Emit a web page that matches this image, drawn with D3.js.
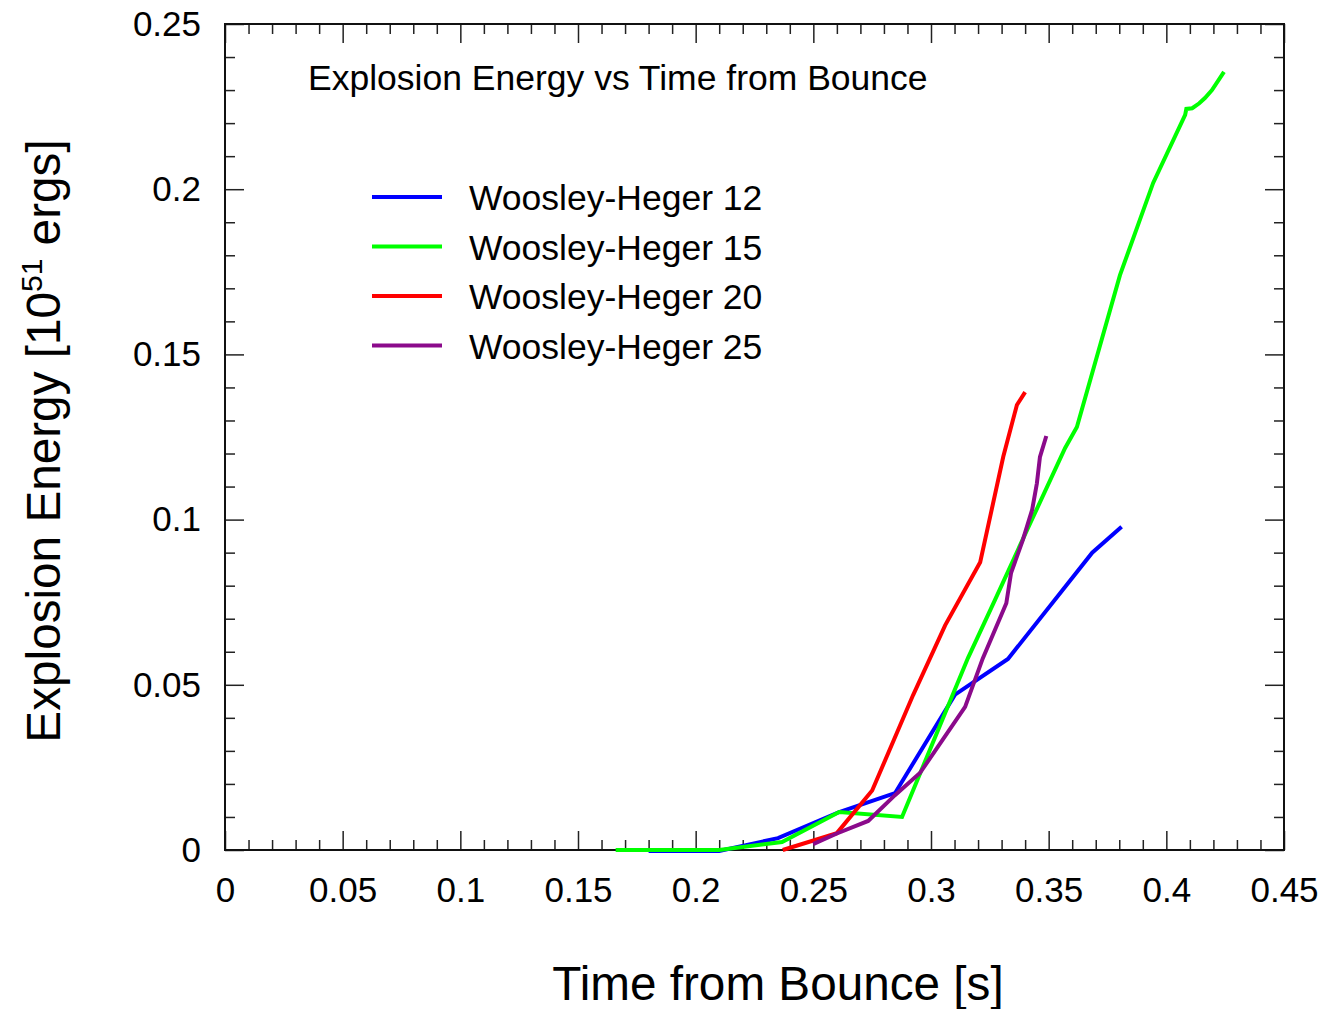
<!DOCTYPE html>
<html>
<head>
<meta charset="utf-8">
<script src="https://cdn.jsdelivr.net/npm/d3@7"></script>
<style>
  html, body { margin: 0; padding: 0; background: #fff; }
  svg { display: block; font-family: "Liberation Sans", Arial, Helvetica, sans-serif; }
</style>
</head>
<body>
<svg id="chart" width="1325" height="1009"></svg>
<script>
// ---- data ----
const seriesNames = ["Woosley-Heger 12", "Woosley-Heger 15", "Woosley-Heger 20", "Woosley-Heger 25"];
const seriesColors = ["#0000ff", "#00ff00", "#ff0000", "#8b0a8b"];

const wh12T = [0.180, 0.210, 0.235, 0.261, 0.2847, 0.3102, 0.3327, 0.3685, 0.381];
const wh12E = [-0.0003, -0.0003, 0.0036, 0.0115, 0.0172, 0.047, 0.0578, 0.090, 0.0978];

const wh15T = [0.166, 0.210, 0.2367, 0.261, 0.2877, 0.3157, 0.3272, 0.3408, 0.357, 0.362, 0.3803, 0.3944, 0.408, 0.4085, 0.411, 0.414, 0.4164, 0.4194, 0.4245];
const wh15E = [0, 0, 0.0024, 0.0115, 0.010, 0.0581, 0.0757, 0.0968, 0.1217, 0.128, 0.174, 0.2019, 0.2225, 0.2243, 0.2245, 0.226, 0.2276, 0.230, 0.2355];

const wh20T = [0.237, 0.260, 0.275, 0.2924, 0.306, 0.3209, 0.3307, 0.3365, 0.340];
const wh20E = [0, 0.0051, 0.018, 0.0469, 0.068, 0.0871, 0.119, 0.1347, 0.1386];

const wh25T = [0.2499, 0.260, 0.2733, 0.2847, 0.2953, 0.3145, 0.322, 0.332, 0.334, 0.339, 0.343, 0.345, 0.3463, 0.349];
const wh25E = [0.0018, 0.005, 0.0088, 0.0166, 0.0233, 0.0433, 0.058, 0.0747, 0.0838, 0.0938, 0.103, 0.111, 0.119, 0.1253];

const xTicks = [0, 0.05, 0.1, 0.15, 0.2, 0.25, 0.3, 0.35, 0.4, 0.45];
const xTickLabels = ["0", "0.05", "0.1", "0.15", "0.2", "0.25", "0.3", "0.35", "0.4", "0.45"];
const yTicks = [0, 0.05, 0.1, 0.15, 0.2, 0.25];
const yTickLabels = ["0", "0.05", "0.1", "0.15", "0.2", "0.25"];

const chartTitle = "Explosion Energy vs Time from Bounce";
const xTitle = "Time from Bounce [s]";

// ---- layout ----
const L = 225, R = 1284, T = 24, B = 850;
const x = d3.scaleLinear().domain([0, 0.45]).range([L, R]);
const y = d3.scaleLinear().domain([0, 0.25]).range([B, T]);

const svg = d3.select("#chart");

const xMinor = d3.range(0, 46).map(i => i * 0.01).filter(v => Math.abs(v * 20 - Math.round(v * 20)) > 1e-6);
const yMinor = d3.range(0, 26).map(i => i * 0.01).filter(v => Math.abs(v * 20 - Math.round(v * 20)) > 1e-6);

function styleAxis(g) {
  g.select(".domain").remove();
  g.selectAll("line").attr("stroke", "#222").attr("stroke-width", 1.5);
}

// minor ticks
svg.append("g").attr("transform", `translate(0,${B})`)
  .call(d3.axisBottom(x).tickValues(xMinor).tickSize(-10).tickFormat(""))
  .call(styleAxis);
svg.append("g").attr("transform", `translate(0,${T})`)
  .call(d3.axisTop(x).tickValues(xMinor).tickSize(-10).tickFormat(""))
  .call(styleAxis);
svg.append("g").attr("transform", `translate(${L},0)`)
  .call(d3.axisLeft(y).tickValues(yMinor).tickSize(-10).tickFormat(""))
  .call(styleAxis);
svg.append("g").attr("transform", `translate(${R},0)`)
  .call(d3.axisRight(y).tickValues(yMinor).tickSize(-10).tickFormat(""))
  .call(styleAxis);

// major ticks
const gxb = svg.append("g").attr("transform", `translate(0,${B})`)
  .call(d3.axisBottom(x).tickValues(xTicks).tickSize(-19).tickPadding(27)
    .tickFormat((d, i) => xTickLabels[i]))
  .call(styleAxis);
gxb.selectAll("text").attr("font-size", 35).attr("fill", "#000")
  .attr("font-family", '"Liberation Sans", Arial, sans-serif');

svg.append("g").attr("transform", `translate(0,${T})`)
  .call(d3.axisTop(x).tickValues(xTicks).tickSize(-19).tickFormat(""))
  .call(styleAxis);

const gyl = svg.append("g").attr("transform", `translate(${L},0)`)
  .call(d3.axisLeft(y).tickValues(yTicks).tickSize(-19).tickPadding(24)
    .tickFormat((d, i) => yTickLabels[i]))
  .call(styleAxis);
gyl.selectAll("text").attr("font-size", 35).attr("fill", "#000")
  .attr("font-family", '"Liberation Sans", Arial, sans-serif');

svg.append("g").attr("transform", `translate(${R},0)`)
  .call(d3.axisRight(y).tickValues(yTicks).tickSize(-19).tickFormat(""))
  .call(styleAxis);

// frame
svg.append("rect").attr("x", L).attr("y", T).attr("width", R - L).attr("height", B - T)
  .attr("fill", "none").attr("stroke", "#111").attr("stroke-width", 2);

// series
const series = [
  { name: seriesNames[0], color: seriesColors[0], t: wh12T, e: wh12E },
  { name: seriesNames[1], color: seriesColors[1], t: wh15T, e: wh15E },
  { name: seriesNames[2], color: seriesColors[2], t: wh20T, e: wh20E },
  { name: seriesNames[3], color: seriesColors[3], t: wh25T, e: wh25E }
];

const line = d3.line().x(d => x(d[0])).y(d => y(d[1]));
series.forEach(s => {
  const pts = s.t.map((t, i) => [t, s.e[i]]);
  svg.append("path").datum(pts).attr("d", line)
    .attr("fill", "none").attr("stroke", s.color).attr("stroke-width", 4)
    .attr("stroke-linejoin", "miter").attr("stroke-linecap", "butt");
});

// title inside plot
svg.append("text").attr("x", 308).attr("y", 90).attr("font-size", 35.5)
  .attr("fill", "#000").text(chartTitle);

// legend
const legY0 = 197, legDy = 49.5;
series.forEach((s, i) => {
  const yy = legY0 + i * legDy;
  svg.append("line").attr("x1", 372).attr("x2", 442).attr("y1", yy).attr("y2", yy)
    .attr("stroke", s.color).attr("stroke-width", 4);
  svg.append("text").attr("x", 469).attr("y", yy + 13).attr("font-size", 35.5)
    .attr("fill", "#000").text(s.name);
});

// axis titles
svg.append("text").attr("x", 778).attr("y", 1000).attr("text-anchor", "middle")
  .attr("font-size", 47.7).attr("fill", "#000").text(xTitle);

const yt = svg.append("text").attr("transform", "translate(60,441) rotate(-90)")
  .attr("text-anchor", "middle").attr("font-size", 47.7).attr("fill", "#000");
yt.append("tspan").text("Explosion Energy [10");
yt.append("tspan").attr("font-size", 30).attr("dy", -18).text("51");
yt.append("tspan").attr("dy", 18).text(" ergs]");
</script>
</body>
</html>
